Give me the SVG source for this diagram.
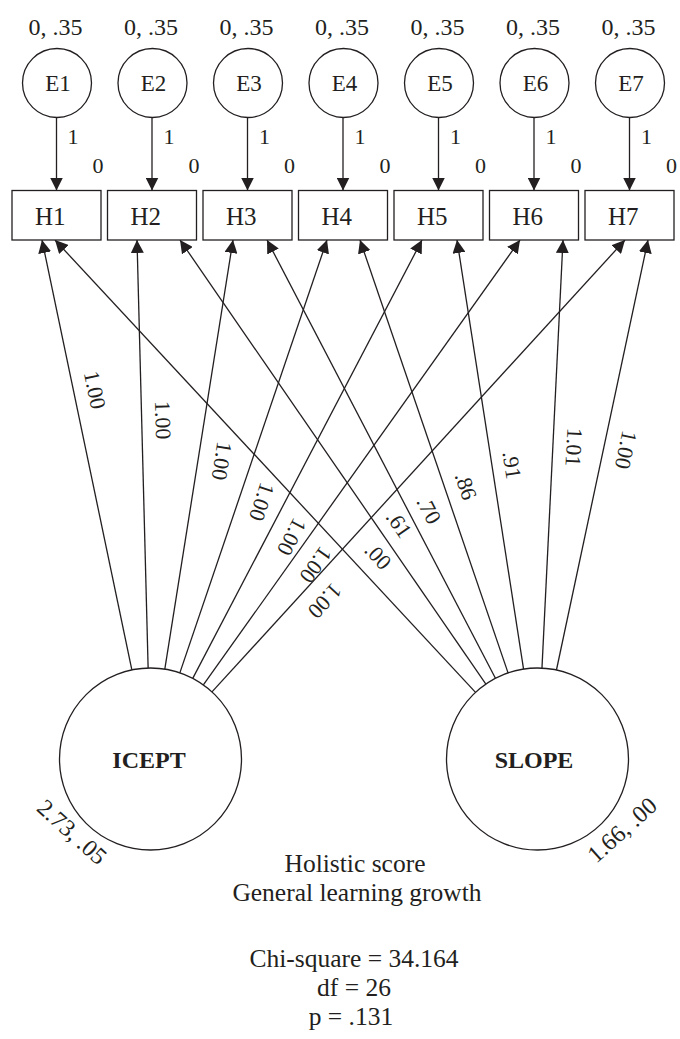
<svg xmlns="http://www.w3.org/2000/svg" width="680" height="1039" viewBox="0 0 680 1039">
<defs>
<marker id="ah" markerUnits="userSpaceOnUse" markerWidth="13" markerHeight="13" refX="13" refY="6.5" orient="auto"><path d="M0,0 L13,6.5 L0,13 z" fill="#231f20"/></marker>
</defs>
<style>
text{font-family:"Liberation Serif","Times New Roman",serif;fill:#231f20}
.m{text-anchor:middle}
.s22{font-size:22px}
.s23{font-size:23px}
.s24{font-size:24px}
.s25{font-size:25px}
.cap{font-size:25.5px}
.b{font-weight:bold}
.node{fill:#fff;stroke:#231f20;stroke-width:1.3}
.edge{stroke:#231f20;stroke-width:1.3;fill:none;marker-end:url(#ah)}
</style>
<rect width="680" height="1039" fill="#fff"/>

<g id="connectors">
<line class="edge" x1="56.5" y1="117.5" x2="56.5" y2="190.5"/>
<line class="edge" x1="152" y1="117.5" x2="152" y2="190.5"/>
<line class="edge" x1="247.5" y1="117.5" x2="247.5" y2="190.5"/>
<line class="edge" x1="343" y1="117.5" x2="343" y2="190.5"/>
<line class="edge" x1="438.5" y1="117.5" x2="438.5" y2="190.5"/>
<line class="edge" x1="534" y1="117.5" x2="534" y2="190.5"/>
<line class="edge" x1="629.5" y1="117.5" x2="629.5" y2="190.5"/>

<line class="edge" x1="131.85" y1="669.93" x2="42" y2="240"/>
<line class="edge" x1="148.13" y1="668.03" x2="137" y2="240"/>
<line class="edge" x1="164.81" y1="669.13" x2="233" y2="240"/>
<line class="edge" x1="179.85" y1="672.86" x2="327" y2="240"/>
<line class="edge" x1="192.75" y1="678.4" x2="422" y2="240"/>
<line class="edge" x1="203.35" y1="684.92" x2="520" y2="240"/>
<line class="edge" x1="211.97" y1="691.9" x2="625" y2="240"/>

<line class="edge" x1="475.54" y1="692.35" x2="55" y2="240"/>
<line class="edge" x1="485.88" y1="684.06" x2="180" y2="240"/>
<line class="edge" x1="495.44" y1="678.3" x2="267" y2="240"/>
<line class="edge" x1="508.05" y1="672.9" x2="360" y2="240"/>
<line class="edge" x1="523.55" y1="669.07" x2="457" y2="240"/>
<line class="edge" x1="541.97" y1="668.11" x2="563" y2="240"/>
<line class="edge" x1="556.45" y1="670" x2="648" y2="240"/>

<g class="s22 m">
<text x="73" y="144">1</text><text x="98" y="173">0</text>
<text x="169" y="144">1</text><text x="194" y="173">0</text>
<text x="264.5" y="144">1</text><text x="289.5" y="173">0</text>
<text x="360" y="144">1</text><text x="385" y="173">0</text>
<text x="455.5" y="144">1</text><text x="480.5" y="173">0</text>
<text x="551" y="144">1</text><text x="576" y="173">0</text>
<text x="646.5" y="144">1</text><text x="671.5" y="173">0</text>
</g>

<g class="s22 m">
<text transform="translate(95,390) rotate(78.17)" y="7.5">1.00</text>
<text transform="translate(163,420) rotate(88.51)" y="7.5">1.00</text>
<text transform="translate(222,461) rotate(99.05)" y="7.5">1.00</text>
<text transform="translate(262,502) rotate(108.81)" y="7.5">1.00</text>
<text transform="translate(292,537) rotate(117.66)" y="7.5">1.00</text>
<text transform="translate(316,565) rotate(125.5)" y="7.5">1.00</text>
<text transform="translate(325,601) rotate(132.49)" y="7.5">1.00</text>
<text transform="translate(378,556) rotate(47)" y="7.5">.00</text>
<text transform="translate(399,524) rotate(55.36)" y="7.5">.61</text>
<text transform="translate(429,510) rotate(62.38)" y="7.5">.70</text>
<text transform="translate(466,486) rotate(71.03)" y="7.5">.86</text>
<text transform="translate(512,465) rotate(81.11)" y="7.5">.91</text>
<text transform="translate(574,447) rotate(92.76)" y="7.5">1.01</text>
<text transform="translate(626,450) rotate(101.99)" y="7.5">1.00</text>
</g>
</g>

<g id="E1"><text class="s24 m" x="55.5" y="35">0, .35</text><circle class="node" cx="57" cy="83" r="34.5"/><text class="s23 m" x="58" y="91">E1</text></g>
<g id="E2"><text class="s24 m" x="151" y="35">0, .35</text><circle class="node" cx="152.5" cy="83" r="34.5"/><text class="s23 m" x="153.5" y="91">E2</text></g>
<g id="E3"><text class="s24 m" x="246.5" y="35">0, .35</text><circle class="node" cx="248" cy="83" r="34.5"/><text class="s23 m" x="249" y="91">E3</text></g>
<g id="E4"><text class="s24 m" x="342" y="35">0, .35</text><circle class="node" cx="343.5" cy="83" r="34.5"/><text class="s23 m" x="344.5" y="91">E4</text></g>
<g id="E5"><text class="s24 m" x="437.5" y="35">0, .35</text><circle class="node" cx="439" cy="83" r="34.5"/><text class="s23 m" x="440" y="91">E5</text></g>
<g id="E6"><text class="s24 m" x="533" y="35">0, .35</text><circle class="node" cx="534.5" cy="83" r="34.5"/><text class="s23 m" x="535.5" y="91">E6</text></g>
<g id="E7"><text class="s24 m" x="628.5" y="35">0, .35</text><circle class="node" cx="630" cy="83" r="34.5"/><text class="s23 m" x="631" y="91">E7</text></g>

<g id="H1"><rect class="node" x="12" y="190.5" width="89" height="49.5"/><text class="s25" x="35" y="225">H1</text></g>
<g id="H2"><rect class="node" x="107.5" y="190.5" width="89" height="49.5"/><text class="s25" x="130.5" y="225">H2</text></g>
<g id="H3"><rect class="node" x="203" y="190.5" width="89" height="49.5"/><text class="s25" x="226" y="225">H3</text></g>
<g id="H4"><rect class="node" x="298.5" y="190.5" width="89" height="49.5"/><text class="s25" x="321.5" y="225">H4</text></g>
<g id="H5"><rect class="node" x="394" y="190.5" width="89" height="49.5"/><text class="s25" x="417" y="225">H5</text></g>
<g id="H6"><rect class="node" x="489.5" y="190.5" width="89" height="49.5"/><text class="s25" x="512.5" y="225">H6</text></g>
<g id="H7"><rect class="node" x="585" y="190.5" width="89" height="49.5"/><text class="s25" x="608" y="225">H7</text></g>

<g id="ICEPT"><circle class="node" cx="150.5" cy="759" r="91"/><text class="s24 m b" x="149" y="768">ICEPT</text><text class="s24 m" transform="translate(72,832) rotate(42)" y="8">2.73, .05</text></g>
<g id="SLOPE"><circle class="node" cx="537.5" cy="759" r="91"/><text class="s24 m b" x="534" y="768">SLOPE</text><text class="s24 m" transform="translate(622,830) rotate(-42)" y="8">1.66, .00</text></g>

<g id="caption" class="cap m">
<text x="355" y="872">Holistic score</text>
<text x="357" y="901">General learning growth</text>
<text x="354" y="967">Chi-square = 34.164</text>
<text x="354" y="996">df = 26</text>
<text x="351" y="1025">p = .131</text>
</g>
</svg>
